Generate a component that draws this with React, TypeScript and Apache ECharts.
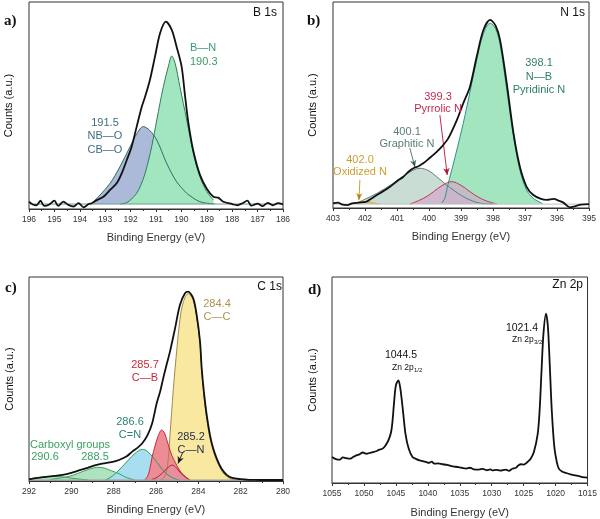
import React, { useEffect, useRef } from 'react';
import * as echarts from 'echarts';

// ---------- tick labels ----------
const aTicks = [196, 195, 194, 193, 192, 191, 190, 189, 188, 187, 186];
const bTicks = [403, 402, 401, 400, 399, 398, 397, 396, 395];
const cTicks = [292, 290, 288, 286, 284, 282, 280];
const dTicks = [1055, 1050, 1045, 1040, 1035, 1030, 1025, 1020, 1015];

// ---------- panel a: B 1s ----------
const aTotal = [[196.0,3.5],[195.85,2.2],[195.7,1.8],[195.55,4.0],[195.4,1.5],[195.2,2.2],[195.0,4.0],[194.85,1.5],[194.65,3.6],[194.45,2.0],[194.25,1.2],[194.05,2.8],[193.85,0.8],[193.65,2.4],[193.53,2.8],[193.33,4.3],[193.07,5.9],[192.81,9.2],[192.55,12.4],[192.35,17.2],[192.15,23.7],[191.96,30.1],[191.76,39.8],[191.56,49.4],[191.43,54.2],[191.24,62.3],[191.04,73.6],[190.84,84.9],[190.61,90.5],[190.38,86.5],[190.19,78.4],[189.99,68.7],[189.86,55.0],[189.73,42.0],[189.53,28.0],[189.27,16.5],[189.0,9.8],[188.74,5.9],[188.55,5.5],[188.35,3.5],[188.0,2.4],[187.8,1.8],[187.6,2.8],[187.4,4.0],[187.25,1.6],[187.0,2.6],[186.8,1.4],[186.6,3.0],[186.4,1.8],[186.2,2.8],[186.0,2.2]];
const aBN = [[192.4,2.4],[192.15,3.1],[191.95,5.0],[191.76,7.6],[191.6,11.5],[191.43,17.2],[191.17,30.1],[190.97,43.0],[190.71,59.1],[190.5,69.5],[190.38,73.9],[190.25,70.5],[190.06,59.1],[189.79,43.0],[189.53,26.9],[189.27,15.6],[189.0,8.4],[188.74,4.3]];
const aBO = [[193.5,3.2],[193.2,6.8],[192.81,12.4],[192.42,20.4],[192.02,30.1],[191.75,36.5],[191.5,39.8],[191.25,38.0],[190.97,33.3],[190.58,22.1],[190.19,13.2],[189.79,7.6],[189.66,6.4],[189.5,5.0],[189.27,3.5],[189.0,2.8],[188.7,2.5]];
const aBaseline = [[196,2.4],[186,2.4]];
const aBOFillEnd = 189.66;

// ---------- panel b: N 1s ----------
const bTotal = [[403.0,2.2],[402.85,2.6],[402.7,1.6],[402.55,1.4],[402.4,2.3],[402.2,2.6],[401.95,3.1],[401.8,4.6],[401.63,6.3],[401.42,8.2],[401.22,10.3],[401.0,13.0],[400.8,15.2],[400.65,17.5],[400.49,19.3],[400.33,20.3],[400.18,21.7],[400.0,24.0],[399.81,26.5],[399.6,29.8],[399.4,33.8],[399.13,42.7],[398.93,50.8],[398.72,58.9],[398.51,73.4],[398.3,86.4],[398.09,91.3],[397.92,88.5],[397.78,81.6],[397.57,60.5],[397.36,36.3],[397.16,20.0],[396.95,10.3],[396.74,6.3],[396.5,4.4],[396.32,3.9],[396.1,4.4],[395.95,3.6],[395.8,2.6],[395.6,0.3],[395.45,0.8],[395.25,1.6],[395.0,1.9]];
const bPyridinic = [[399.6,2.5],[399.5,5.0],[399.43,10.0],[399.29,18.4],[399.13,28.2],[398.93,41.1],[398.72,56.3],[398.51,71.8],[398.3,84.6],[398.09,89.7],[397.92,87.0],[397.78,79.5],[397.57,57.3],[397.36,34.7],[397.16,18.4],[396.95,8.7],[396.74,4.7],[396.45,2.2]];
const bGraphitic = [[402.3,2.0],[402.05,3.9],[401.63,7.1],[401.12,12.0],[400.7,16.5],[400.28,19.3],[400.0,18.0],[399.76,15.2],[399.5,11.8],[399.24,8.7],[398.98,6.0],[398.72,3.9],[398.4,2.3],[398.0,1.9]];
const bPyrrolic = [[400.6,1.9],[400.28,3.9],[400.05,5.8],[399.86,7.9],[399.6,10.8],[399.29,12.8],[399.0,11.0],[398.72,7.9],[398.45,5.2],[398.2,3.4],[397.88,1.9]];
const bOxidized = [[402.45,1.9],[402.2,2.6],[402.0,3.2],[401.8,2.6],[401.55,1.9]];
const bBaseline = [[403,1.9],[395,1.9]];

// ---------- panel c: C 1s ----------
const cTotal = [[292.0,0.8],[291.6,1.5],[291.2,2.0],[290.8,2.5],[290.4,3.0],[290.0,4.0],[289.6,5.3],[289.2,6.6],[288.85,7.8],[288.6,8.4],[288.38,8.8],[288.0,9.5],[287.75,10.3],[287.4,12.0],[287.12,14.4],[286.85,16.5],[286.65,18.5],[286.4,22.5],[286.18,28.3],[285.97,38.0],[285.8,44.0],[285.66,50.3],[285.5,57.0],[285.34,63.4],[285.1,74.8],[284.87,86.3],[284.63,92.0],[284.48,92.8],[284.24,89.5],[284.08,81.4],[283.92,68.3],[283.84,55.0],[283.73,43.0],[283.6,32.0],[283.45,22.5],[283.3,16.0],[283.13,11.0],[282.9,6.0],[282.66,3.0],[282.4,1.5],[282.0,0.9],[281.6,0.6],[281.0,0.5],[280.0,0.5]];
const cCC = [[285.8,0.5],[285.6,2.0],[285.45,8.0],[285.35,21.0],[285.26,34.0],[285.18,45.0],[285.1,55.0],[284.87,79.0],[284.7,88.0],[284.48,91.8],[284.24,88.5],[284.08,80.5],[283.92,67.5],[283.84,54.0],[283.73,41.0],[283.6,30.0],[283.45,21.0],[283.3,15.0],[283.13,10.0],[282.9,5.0],[282.66,2.2],[282.4,0.8],[282.2,0.5]];
const cCB = [[286.55,0.5],[286.41,2.0],[286.3,5.5],[286.18,11.9],[286.05,17.0],[285.9,22.0],[285.73,25.0],[285.6,23.5],[285.5,20.5],[285.39,16.8],[285.25,12.5],[285.07,8.7],[284.9,5.5],[284.75,3.5],[284.6,2.0],[284.4,0.5]];
const cCN = [[286.2,0.8],[286.0,1.5],[285.7,3.8],[285.5,6.0],[285.23,7.8],[285.0,6.0],[284.83,3.8],[284.6,1.8],[284.4,0.5]];
const cCdN = [[288.4,0.5],[288.22,1.3],[287.9,3.8],[287.6,7.0],[287.3,10.3],[287.0,13.5],[286.65,15.5],[286.4,14.5],[286.1,11.1],[285.8,7.0],[285.54,3.8],[285.2,1.5],[284.9,0.5]];
const cCOOH1 = [[291.0,0.8],[290.5,1.5],[290.1,2.3],[289.7,3.7],[289.3,5.3],[288.95,6.4],[288.69,6.7],[288.4,6.2],[288.1,5.0],[287.75,3.6],[287.5,2.2],[287.28,1.3],[287.0,0.5]];
const cCOOH2 = [[292.0,1.0],[291.6,1.6],[291.2,2.1],[290.8,2.3],[290.4,2.0],[290.0,1.4],[289.6,0.9],[289.2,0.5]];
const cBaseline = [[292,0.5],[280,0.5]];

// ---------- panel d: Zn 2p ----------
const dTotal = [[1055,12.6],[1054.4,11.6],[1053.8,11.3],[1053.3,12.4],[1052.8,12.1],[1052.2,11.8],[1051.7,12.6],[1051.2,13.4],[1050.7,13.9],[1050.2,14.8],[1049.6,14.2],[1049.1,14.6],[1048.6,15.0],[1048.1,15.4],[1047.6,16.2],[1047.2,16.5],[1046.8,17.5],[1046.3,19.9],[1045.95,22.5],[1045.7,25.6],[1045.5,31.0],[1045.3,38.5],[1045.0,47.4],[1044.6,49.8],[1044.3,45.8],[1043.9,35.3],[1043.5,23.9],[1043.0,16.7],[1042.4,12.6],[1041.8,11.6],[1041.3,11.0],[1040.8,10.6],[1040.3,10.2],[1039.8,9.8],[1039.4,10.4],[1039.0,9.4],[1038.4,9.5],[1037.7,9.1],[1037.0,8.8],[1036.1,8.1],[1035.2,7.7],[1034.5,7.2],[1034.0,7.0],[1033.4,7.4],[1032.8,6.6],[1032.0,6.5],[1031.4,6.9],[1030.8,6.2],[1030.2,6.6],[1029.9,6.1],[1029.3,6.4],[1028.7,6.0],[1027.8,6.5],[1027.3,5.9],[1026.8,6.9],[1026.2,7.4],[1025.8,8.6],[1025.4,9.1],[1025.0,8.9],[1024.7,9.4],[1024.3,10.5],[1023.9,11.8],[1023.4,15.0],[1022.8,23.9],[1022.5,35.3],[1022.2,54.7],[1021.9,72.5],[1021.5,82.2],[1021.2,75.7],[1020.9,56.3],[1020.6,35.3],[1020.2,17.5],[1019.8,10.0],[1019.5,7.0],[1019.0,5.6],[1018.4,4.9],[1017.7,4.2],[1016.9,3.7],[1016.3,3.3],[1015.8,2.9],[1015.0,2.6]];

// ---------- annotation arrows (data coordinates) ----------
const arrowGraphitic = [[400.6, 29.1], [400.44, 19.9]];
const arrowPyrrolic = [[399.66, 45.1], [399.43, 16.0]];
const arrowOxidized = [[402.16, 13.6], [402.19, 3.9]];
const arrowCN = [[284.73, 14.2], [284.96, 8.6]];

const FONT = "'Liberation Sans', Arial, Helvetica, sans-serif";
const SERIF = "'Liberation Serif', 'Times New Roman', serif";

const grids = [
  { left: 29, top: 2, width: 254, height: 207 },
  { left: 333, top: 2, width: 256, height: 206 },
  { left: 29, top: 277, width: 254, height: 204 },
  { left: 332, top: 277, width: 257, height: 206 },
];

function xAxisFor(i: number, ticks: number[], nameGap: number) {
  return {
    type: 'value', gridIndex: i, inverse: true,
    min: Math.min(...ticks), max: Math.max(...ticks), interval: Math.abs(ticks[0] - ticks[1]),
    name: 'Binding Energy (eV)', nameLocation: 'middle', nameGap,
    nameTextStyle: { fontSize: 11, color: '#333', fontFamily: FONT },
    axisLine: { show: true, onZero: false, lineStyle: { color: '#333', width: 1 } },
    axisTick: { show: true, inside: false, length: 3, lineStyle: { color: '#333', width: 1 } },
    minorTick: { show: true, splitNumber: 2, length: 2, lineStyle: { color: '#333', width: 1 } },
    axisLabel: { fontSize: 8.5, color: '#333', margin: 5, fontFamily: FONT, formatter: (v: number) => String(v) },
    splitLine: { show: false },
  };
}

function comp(i: number, data: number[][], line: string, fill: string | null, origin: number, fillOpacity = 1, z = 2) {
  return {
    type: 'line', xAxisIndex: i, yAxisIndex: i, data, smooth: 0.35, symbol: 'none', showSymbol: false,
    lineStyle: { color: line, width: 1 }, z,
    areaStyle: fill ? { color: fill, opacity: fillOpacity, origin } : undefined,
    silent: true,
  };
}
function fillOnly(i: number, data: number[][], fill: string, origin: number, fillOpacity = 1) {
  return {
    type: 'line', xAxisIndex: i, yAxisIndex: i, data, smooth: 0.35, symbol: 'none', showSymbol: false,
    lineStyle: { width: 0, opacity: 0 }, areaStyle: { color: fill, opacity: fillOpacity, origin }, z: 1, silent: true,
  };
}
function total(i: number, data: number[][]) {
  return {
    type: 'line', xAxisIndex: i, yAxisIndex: i, data, smooth: 0.3, symbol: 'none', showSymbol: false,
    lineStyle: { color: '#111', width: 1.8 }, z: 6, silent: true,
  };
}
function baseLine(i: number, data: number[][], color: string) {
  return {
    type: 'line', xAxisIndex: i, yAxisIndex: i, data, symbol: 'none', showSymbol: false,
    lineStyle: { color, width: 1 }, z: 3, silent: true,
  };
}
function arrow(i: number, pts: number[][], color: string) {
  return {
    type: 'line', xAxisIndex: i, yAxisIndex: i, data: [], symbol: 'none', silent: true, z: 7,
    markLine: {
      silent: true, symbol: ['none', 'arrow'], symbolSize: [5, 7], animation: false,
      label: { show: false }, lineStyle: { color, width: 1, type: 'solid' },
      data: [[{ coord: pts[0] }, { coord: pts[1] }]],
    },
  };
}

type Lbl = { t: string; x: number; y: number; c?: string; s?: number; a?: string; lh?: number; serif?: boolean; rot?: boolean };
const labels: Lbl[] = [
  // a
  { t: 'a)', x: 4, y: 11, serif: true, s: 15 },
  { t: 'B 1s', x: 277, y: 5, s: 12, a: 'right' },
  { t: 'B\u2014N\n190.3', x: 190, y: 40.5, c: '#3d9a6a', lh: 13.5 },
  { t: '191.5\nNB\u2014O\nCB\u2014O', x: 105, y: 115, c: '#3f6c84', a: 'center', lh: 13.5 },
  { t: 'Counts (a.u.)', x: 8, y: 105.5, rot: true },
  // b
  { t: 'b)', x: 307, y: 11, serif: true, s: 15 },
  { t: 'N 1s', x: 585, y: 5, s: 12, a: 'right' },
  { t: '398.1\nN\u2014B\nPyridinic N', x: 539, y: 55.5, c: '#2f7f63', a: 'center', lh: 13.5 },
  { t: '399.3\nPyrrolic N', x: 438, y: 89.5, c: '#c42a4c', a: 'center', lh: 12 },
  { t: '400.1\nGraphitic N', x: 407, y: 124.5, c: '#5b7c78', a: 'center', lh: 12 },
  { t: '402.0\nOxidized N', x: 360, y: 152.5, c: '#c9a030', a: 'center', lh: 12 },
  { t: 'Counts (a.u.)', x: 312, y: 105, rot: true },
  // c
  { t: 'c)', x: 5, y: 278, serif: true, s: 15 },
  { t: 'C 1s', x: 282, y: 279.5, s: 12, a: 'right' },
  { t: '284.4\nC\u2014C', x: 217, y: 296, c: '#b0944e', a: 'center', lh: 13 },
  { t: '285.7\nC\u2014B', x: 145, y: 357.5, c: '#c8283c', a: 'center', lh: 13 },
  { t: '286.6\nC=N', x: 130, y: 414.5, c: '#2f807a', a: 'center', lh: 13 },
  { t: '285.2\nC\u2014N', x: 191, y: 429.5, c: '#1f2a4d', a: 'center', lh: 13 },
  { t: 'Carboxyl groups', x: 30, y: 437.5, c: '#3aa060' },
  { t: '290.6', x: 45, y: 449.5, c: '#3aa060', a: 'center' },
  { t: '288.5', x: 95, y: 449.5, c: '#3aa060', a: 'center' },
  { t: 'Counts (a.u.)', x: 9, y: 379, rot: true },
  // d
  { t: 'd)', x: 308, y: 280, serif: true, s: 15 },
  { t: 'Zn 2p', x: 583, y: 277.5, s: 12, a: 'right' },
  { t: '1021.4', x: 522, y: 320.5, s: 10.5, a: 'center' },
  { t: 'Zn 2p', x: 512, y: 334, s: 8.5 },
  { t: '3/2', x: 534, y: 338.5, s: 6 },
  { t: '1044.5', x: 401, y: 348, s: 10.5, a: 'center' },
  { t: 'Zn 2p', x: 392, y: 362, s: 8.5 },
  { t: '1/2', x: 414, y: 366.5, s: 6 },
  { t: 'Counts (a.u.)', x: 312, y: 380, rot: true },
];

function applyBlend(el: HTMLElement) {
  el.querySelectorAll('path').forEach((p) => {
    const fill = p.getAttribute('fill');
    const stroke = p.getAttribute('stroke');
    if (!fill || fill === 'none' || fill === 'transparent') return;
    if (stroke && stroke !== 'none') return;
    const op = p.getAttribute('opacity');
    const fop = p.getAttribute('fill-opacity');
    if ((op && parseFloat(op) < 1) || (fop && parseFloat(fop) < 1)) return;
    (p as unknown as SVGElement).style.mixBlendMode = 'multiply';
  });
}

export default function App() {
  const ref = useRef<HTMLDivElement>(null);
  useEffect(() => {
    if (!ref.current) return;
    const chart = echarts.init(ref.current, null, { renderer: 'svg' });
    const graphic = labels.map((l) => ({
      type: 'text',
      x: l.x, y: l.y,
      rotation: l.rot ? Math.PI / 2 : 0,
      silent: true,
      z: 100,
      style: {
        text: l.t,
        fill: l.c || '#111',
        fontSize: l.s || 11,
        fontFamily: l.serif ? SERIF : FONT,
        fontWeight: l.serif ? 'bold' : 'normal',
        lineHeight: l.lh || (l.s || 11) * 1.15,
        align: l.rot ? 'center' : (l.a || 'left'),
        textAlign: l.rot ? 'center' : (l.a || 'left'),
        verticalAlign: l.rot ? 'middle' : 'top',
        textVerticalAlign: l.rot ? 'middle' : 'top',
      },
    }));
    const series: any[] = [
      // a
      fillOnly(0, aBO.filter((p) => p[0] >= aBOFillEnd), '#aabad8', 2.4),
      comp(0, aBO, '#2f6b68', null, 2.4),
      comp(0, aBN, '#2e7f55', '#a2e6bf', 2.4),
      baseLine(0, aBaseline, '#6f9a94'),
      total(0, aTotal),
      // b
      comp(1, bPyridinic, '#2a9488', '#93e0b3', 1.9, 0.85),
      comp(1, bGraphitic, '#5f807b', '#bcd4cb', 1.9, 0.8),
      comp(1, bPyrrolic, '#c43656', '#d6a0cc', 1.9, 0.6),
      comp(1, bOxidized, '#d0a030', '#ecc860', 1.9, 0.85),
      baseLine(1, bBaseline, '#b9c2bd'),
      total(1, bTotal),
      arrow(1, arrowGraphitic, '#5b7c78'),
      arrow(1, arrowPyrrolic, '#c42a4c'),
      arrow(1, arrowOxidized, '#c9a030'),
      // c
      comp(2, cCOOH2, '#3c9e60', '#aee3c0', 0.5),
      comp(2, cCOOH1, '#3c9e60', '#aee3c0', 0.5),
      comp(2, cCdN, '#2a9a5c', '#a8def0', 0.5),
      comp(2, cCC, '#a08848', '#f9e9a0', 0.5),
      comp(2, cCB, '#c8283c', '#ee8c95', 0.5),
      comp(2, cCN, '#b01c3c', '#e6909e', 0.5),
      baseLine(2, cBaseline, '#a0a0a0'),
      total(2, cTotal),
      arrow(2, arrowCN, '#1f2a4d'),
      // d
      total(3, dTotal),
    ];
    chart.setOption({
      animation: false,
      backgroundColor: '#ffffff',
      textStyle: { fontFamily: FONT },
      grid: grids.map((g) => ({ ...g, show: true, borderColor: '#333', borderWidth: 1, backgroundColor: 'transparent', containLabel: false })),
      xAxis: [xAxisFor(0, aTicks, 22), xAxisFor(1, bTicks, 22), xAxisFor(2, cTicks, 22), xAxisFor(3, dTicks, 23)],
      yAxis: grids.map((_, i) => ({ type: 'value', gridIndex: i, min: 0, max: 100, show: false })),
      series,
      graphic,
    });
    const el = ref.current;
    const blend = () => applyBlend(el);
    blend();
    chart.on('finished', blend);
    const t = setTimeout(blend, 50);
    return () => {
      clearTimeout(t);
      chart.dispose();
    };
  }, []);
  return <div ref={ref} style={{ position: 'absolute', left: 0, top: 0, width: 600, height: 519, background: '#fff' }} />;
}
